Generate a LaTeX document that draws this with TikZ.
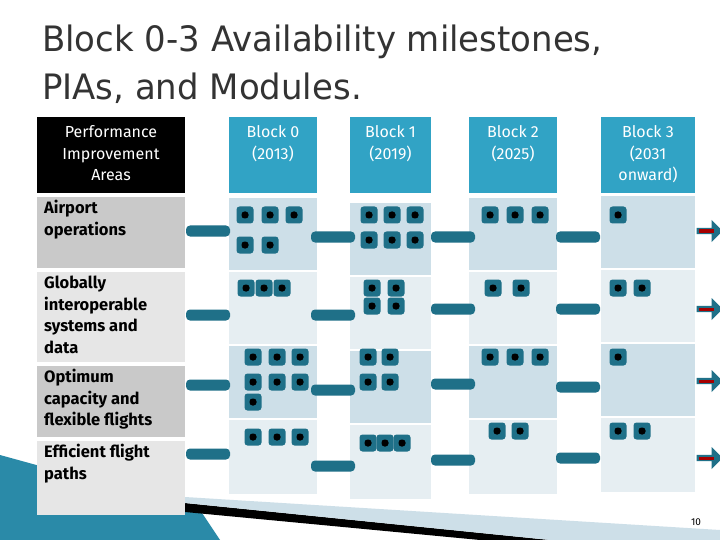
\documentclass[tikz,border=0pt]{standalone}
\usepackage{fontspec}
\setmainfont{DejaVu Sans}
\newfontfamily\tabfont{Fira Sans}
\usetikzlibrary{shapes.arrows}
\definecolor{teal}{HTML}{1F7088}
\definecolor{hdr}{HTML}{31A3C5}
\definecolor{cdark}{HTML}{CDDFE8}
\definecolor{clight}{HTML}{E6EEF2}
\definecolor{gdark}{HTML}{C9C9C9}
\definecolor{glight}{HTML}{E6E6E6}
\tikzset{
 sq/.style={fill=teal,rounded corners=3pt,minimum size=17pt,inner sep=0pt,draw=none,
   path picture={\fill[black] ([xshift=-3.5pt,yshift=-3.5pt]path picture bounding box.center) rectangle ++(7pt,7pt);}},
 bar/.style={fill=teal,rounded corners=4pt,minimum width=44pt,minimum height=11pt,inner sep=0pt},
 lab/.style={anchor=north west,align=left,font=\tabfont\bfseries\fontsize{16.5}{21.5}\selectfont,inner sep=0pt},
 ttl/.style={anchor=west,inner sep=0pt,text=black!80,font=\fontsize{35}{40}\selectfont,xscale=0.97},
 arr/.style={single arrow,fill=teal,minimum width=22pt,single arrow head extend=3pt,minimum height=26pt,inner sep=1pt,single arrow head indent=0pt}
}
\begin{document}
\begin{tikzpicture}[x=1pt,y=-1pt]
\useasboundingbox (0,0) rectangle (720,540);
\fill[white] (0,0) rectangle (720,540);
% decoration
\fill[hdr!85!black] (0,455) -- (200,510) -- (220,540) -- (0,540) -- cycle;
\fill[black] (185,503) -- (550,540) -- (480,540) -- (185,512) -- cycle;
\fill[cdark] (185,497) -- (720,530) -- (720,540) -- (550,540) -- (185,503) -- cycle;
% title
\node[ttl] (t1) at (42,42) {Block 0-3 Availability milestones,};
\node[ttl] (t2) at (42,88) {PIAs, and Modules.};
% header
\node[fill=black,text=white,anchor=north west,minimum width=148pt,minimum height=76pt,inner sep=0pt] (h0) at (37,117) {};
\node[text=white,align=center,font=\tabfont\fontsize{16}{21.5}\selectfont,anchor=north] at (111,122) {Performance\\Improvement\\Areas};
\foreach \x/\w/\t/\n in {229/88/{Block 0\\(2013)}/b0,350/81/{Block 1\\(2019)}/b1,469/88/{Block 2\\(2025)}/b2,601/94/{Block 3\\(2031\\onward)}/b3}{
  \fill[hdr] (\x,117) rectangle ++(\w,76);
  \node[text=white,align=center,font=\tabfont\fontsize{16}{21.5}\selectfont,anchor=north] (\n) at (\x+\w/2,122) {\t};
}
% left labels
\fill[gdark] (37,197) rectangle (185,268);
\fill[glight] (37,272) rectangle (185,362);
\fill[gdark] (37,366) rectangle (185,437);
\fill[glight] (37,441) rectangle (185,515);
\node[lab] (l1) at (44,200) {Airport\\operations};
\node[lab] (l2) at (44,276) {Globally\\interoperable\\systems and\\data};
\node[lab] (l3) at (44,369) {Optimum\\capacity and\\flexible flights};
\node[lab] (l4) at (44,444) {Efficient flight\\paths};
% column cells
\foreach \x/\w/\o in {229/88/0,350/81/5,469/88/0,601/94/-2}{
  \fill[cdark] (\x,198+\o) rectangle ++(\w,72);
  \fill[clight] (\x,272+\o) rectangle ++(\w,72);
  \fill[cdark] (\x,346+\o) rectangle ++(\w,72);
  \fill[clight] (\x,420+\o) rectangle ++(\w,74);
}
% squares
\foreach \p in {(245,215),(270,215),(294,215),(245,245),(270,245),
  (246,288),(264,288),(282,288),
  (253,357),(277,357),(300,357),(253,382),(277,382),(300,382),(253,402),
  (253,437),(277,437),(300,437),
  (369,215),(392,215),(415,215),(369,240),(392,240),(415,240),
  (372,288),(396,288),(372,306),(396,306),
  (368,357),(390,357),(368,382),(390,382),
  (368,443),(385,443),(402,443),
  (490,215),(515,215),(540,215),
  (493,288),(521,288),
  (490,357),(515,357),(540,357),
  (497,431),(520,431),
  (618,215),(618,288),(642,288),(618,357),(618,431),(642,431)}
  \node[sq] at \p {};
% bars
\foreach \x/\ys in {208/{231,315,385,454},333/{237,315,390,466},453/{237,309,384,460},578/{237,309,387,458}}
  \foreach \y in \ys \node[bar] at (\x,\y) {};
% arrows
\foreach \y in {231,309,381,458}{
  \node[arr] at (708,\y) {};
  \draw[red!65!black,line width=3pt] (699,\y) -- (714,\y);
}
\node[font=\tabfont\fontsize{10}{12}\selectfont] (pg) at (696,522) {10};
\end{tikzpicture}
\end{document}
